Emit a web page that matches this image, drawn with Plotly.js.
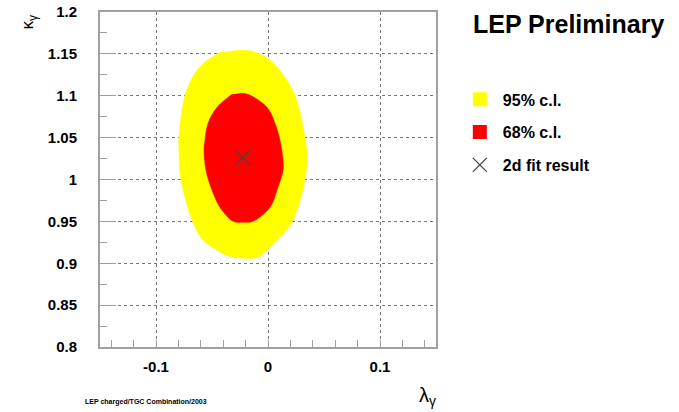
<!DOCTYPE html>
<html>
<head>
<meta charset="utf-8">
<script src="https://cdn.plot.ly/plotly-3.0.1.min.js"></script>
<style>
  html, body { margin: 0; padding: 0; background: #ffffff; }
  #chart { width: 679px; height: 412px; }
</style>
</head>
<body>
<div id="chart"></div>
<script>
// 95% c.l. contour (lambda_gamma, kappa_gamma)
var yellowX = [-0.0295, -0.0134, 0.0018, 0.0125, 0.0241, 0.0330, 0.0348, 0.0330, 0.0214, 0.0080, -0.0009, -0.0089, -0.0205, -0.0339, -0.0455, -0.0580, -0.0670, -0.0777, -0.0795, -0.0795, -0.0741, -0.0652, -0.0563, -0.0429];
var yellowY = [1.154, 1.153, 1.1423, 1.1268, 1.1005, 1.0504, 1.0265, 0.9991, 0.9489, 0.9274, 0.9155, 0.9071, 0.9060, 0.9080, 0.9155, 0.9274, 0.9489, 0.9991, 1.0349, 1.0504, 1.1005, 1.1268, 1.1399, 1.152];
// 68% c.l. contour
var redX = [-0.0250, -0.0179, -0.0009, 0.0063, 0.0107, 0.0134, 0.0134, 0.0080, 0.0018, -0.0134, -0.0223, -0.0313, -0.0429, -0.0500, -0.0554, -0.0571, -0.0563, -0.0536, -0.0455, -0.0321];
var redY = [1.1029, 1.1017, 1.0862, 1.0670, 1.0468, 1.0229, 1.0110, 0.9871, 0.9668, 0.9501, 0.9489, 0.9501, 0.9668, 0.9871, 1.0110, 1.0349, 1.0468, 1.0670, 1.0862, 1.1017];
// 2d fit result
var fitX = [-0.0226];
var fitY = [1.026];

// tick labels
var xTickVals = [-0.1, 0, 0.1];
var xTickText = ["-0.1", "0", "0.1"];
var yTickVals = [0.8, 0.85, 0.9, 0.95, 1.0, 1.05, 1.1, 1.15, 1.2];
var yTickText = ["0.8", "0.85", "0.9", "0.95", "1", "1.05", "1.1", "1.15", "1.2"];

var FONT = "Liberation Sans, Arial, Helvetica, sans-serif";

var data = [
  { x: yellowX, y: yellowY, type: "scatter", mode: "lines", fill: "toself",
    fillcolor: "#ffff00", line: { color: "#ffff00", width: 0.5, shape: "spline", smoothing: 1 },
    showlegend: false, hoverinfo: "skip" },
  { x: redX, y: redY, type: "scatter", mode: "lines", fill: "toself",
    fillcolor: "#ff0000", line: { color: "#ff0000", width: 0.5, shape: "spline", smoothing: 1 },
    showlegend: false, hoverinfo: "skip" },
  { x: [null], y: [null], type: "scatter", mode: "markers", name: "95% c.l.", legendgroup: "a",
    marker: { symbol: "square", size: 14, color: "#ffff00" } },
  { x: [null], y: [null], type: "scatter", mode: "markers", name: "68% c.l.", legendgroup: "b",
    marker: { symbol: "square", size: 14, color: "#ff0000" } },
  { x: fitX, y: fitY, type: "scatter", mode: "markers", name: "2d fit result", legendgroup: "c",
    marker: { symbol: "x-thin-open", size: 14, line: { width: 1.3, color: "#444" }, color: "#444" } }
];

var axisCommon = {
  showline: true, mirror: true, linecolor: "#a0a0a0", linewidth: 2,
  zeroline: false, showgrid: true, gridcolor: "#777", griddash: "dot", gridwidth: 1,
  ticks: "inside", tickcolor: "#a0a0a0", tickwidth: 1,
  tickfont: { family: FONT, size: 15, color: "#000", weight: "bold" },
  fixedrange: true
};

var layout = {
  width: 679, height: 412, autosize: false,
  margin: { l: 100, r: 243, t: 12, b: 65, pad: 0 },
  paper_bgcolor: "#ffffff", plot_bgcolor: "#ffffff",
  font: { family: FONT, color: "#000" },
  xaxis: Object.assign({}, axisCommon, {
    range: [-0.15, 0.15], tickmode: "array", tickvals: xTickVals, ticktext: xTickText,
    ticklen: 7, ticklabelstandoff: 5,
    minor: { tickmode: "linear", tick0: 0, dtick: 0.02, ticks: "inside", ticklen: 7, tickcolor: "#a0a0a0", showgrid: false }
  }),
  yaxis: Object.assign({}, axisCommon, {
    range: [0.8, 1.2], tickmode: "array", tickvals: yTickVals, ticktext: yTickText,
    ticklen: 16, ticklabelstandoff: 18,
    minor: { tickmode: "linear", tick0: 0.8, dtick: 0.025, ticks: "inside", ticklen: 7, tickcolor: "#a0a0a0", showgrid: false }
  }),
  showlegend: true,
  legend: {
    x: 1.062, xanchor: "left", y: 0.79, yanchor: "top",
    bgcolor: "rgba(0,0,0,0)", borderwidth: 0, itemwidth: 36,
    font: { family: FONT, size: 16, color: "#000", weight: "bold" },
    tracegroupgap: 9, itemclick: false, itemdoubleclick: false
  },
  annotations: [
    { text: "LEP Preliminary", xref: "paper", yref: "paper", x: 1.104, y: 0.963,
      xanchor: "left", yanchor: "middle", showarrow: false,
      font: { family: FONT, size: 25, color: "#000", weight: "bold" } },
    { text: "κ<sub>γ</sub>", xref: "paper", yref: "paper", x: -0.21, y: 0.97,
      xanchor: "center", yanchor: "middle", showarrow: false, textangle: -90,
      font: { family: FONT, size: 17, color: "#000" } },
    { text: "λ<sub>γ</sub>", xref: "paper", yref: "paper", x: 0.976, y: -0.149,
      xanchor: "center", yanchor: "middle", showarrow: false,
      font: { family: FONT, size: 20, color: "#000" } },
    { text: "LEP charged/TGC Combination/2003", xref: "paper", yref: "paper", x: -0.0506, y: -0.164,
      xanchor: "left", yanchor: "middle", showarrow: false,
      font: { family: FONT, size: 7, color: "#000", weight: "bold" } }
  ]
};

Plotly.newPlot("chart", data, layout, { displayModeBar: false, staticPlot: true });
</script>
</body>
</html>
